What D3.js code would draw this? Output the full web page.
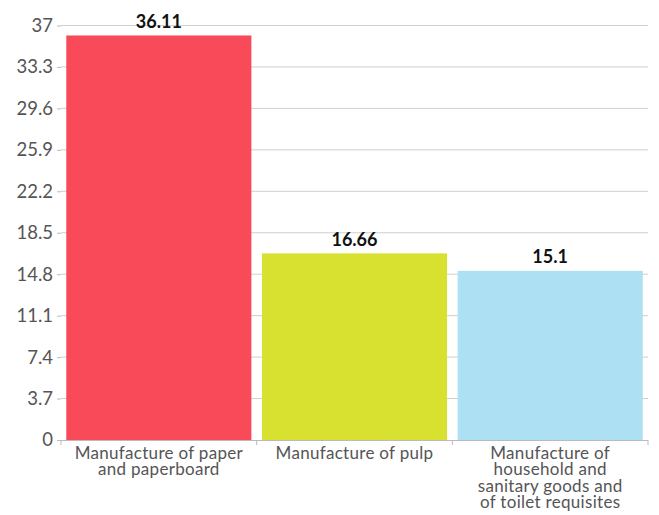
<!DOCTYPE html>
<html><head><meta charset="utf-8">
<script src="https://cdn.jsdelivr.net/npm/d3@7"></script>
<style>body{margin:0;background:#fff}svg{display:block}</style>
</head><body>
<svg id="chart" width="659" height="515"></svg>
<script>
const categories = [
  ["Manufacture of paper", "and paperboard"],
  ["Manufacture of pulp"],
  ["Manufacture of", "household and", "sanitary goods and", "of toilet requisites"]
];
const values = [36.11, 16.66, 15.1];
const valueLabels = ["36.11", "16.66", "15.1"];
const colors = ["#F94A5A", "#D8E030", "#ACE0F2"];
const yTicks = [0, 3.7, 7.4, 11.1, 14.8, 18.5, 22.2, 25.9, 29.6, 33.3, 37];

(function () {
const svg = d3.select("#chart");
const font = "Lato, 'Open Sans', sans-serif";
const mLeft = 61, mRight = 648, mTop = 25.5, mBottom = 440;

const x = d3.scaleBand().domain(d3.range(values.length)).range([mLeft, mRight]).paddingInner(0.054).paddingOuter(0.027);
const y = d3.scaleLinear().domain([0, 37]).range([mBottom, mTop]);

// gridlines
svg.append("g").selectAll("line").data(yTicks.filter(d => d > 0)).join("line")
  .attr("x1", mLeft).attr("x2", mRight)
  .attr("y1", d => y(d)).attr("y2", d => y(d))
  .attr("stroke", "#cfcfcf").attr("stroke-width", 1);

// y axis
const ya = svg.append("g").attr("transform", `translate(${mLeft},0)`)
  .call(d3.axisLeft(y).tickValues(yTicks).tickFormat(d => String(d)).tickSize(4).tickPadding(4));
ya.select(".domain").remove();
ya.selectAll(".tick line").attr("stroke", "#bbb");
ya.selectAll(".tick text").attr("fill", "#555").style("font-family", font).style("font-size", "18.5px");

// bars
svg.append("g").selectAll("rect").data(values).join("rect")
  .attr("x", (d, i) => x(i)).attr("width", x.bandwidth())
  .attr("y", d => y(d)).attr("height", d => mBottom - y(d))
  .attr("fill", (d, i) => colors[i]);

// value labels
svg.append("g").selectAll("text").data(values).join("text")
  .attr("x", (d, i) => x(i) + x.bandwidth() / 2)
  .attr("y", d => y(d) - 7.5)
  .attr("text-anchor", "middle")
  .style("font-family", font).style("font-weight", "bold").style("font-size", "18px")
  .attr("fill", "#111")
  .text((d, i) => valueLabels[i]);

// x axis line and ticks
svg.append("line").attr("x1", mLeft).attr("x2", mRight).attr("y1", mBottom + 0.5).attr("y2", mBottom + 0.5)
  .attr("stroke", "#bbb");
const bounds = [mLeft, ...d3.range(1, values.length).map(i => (x(i - 1) + x.bandwidth() + x(i)) / 2), mRight];
svg.append("g").selectAll("line").data(bounds).join("line")
  .attr("x1", d => d).attr("x2", d => d).attr("y1", mBottom).attr("y2", mBottom + 5)
  .attr("stroke", "#bbb");

// category labels
const cl = svg.append("g").selectAll("text").data(categories).join("text")
  .attr("text-anchor", "middle")
  .attr("transform", (d, i) => `translate(${x(i) + x.bandwidth() / 2},${mBottom + 18.5})`)
  .style("font-family", font).style("font-size", "17px").style("letter-spacing", "0.3px").attr("fill", "#555");
cl.selectAll("tspan").data(d => d).join("tspan")
  .attr("x", 0).attr("dy", (d, j) => j === 0 ? 0 : 16.5).text(d => d);
})();
</script>
</body></html>
